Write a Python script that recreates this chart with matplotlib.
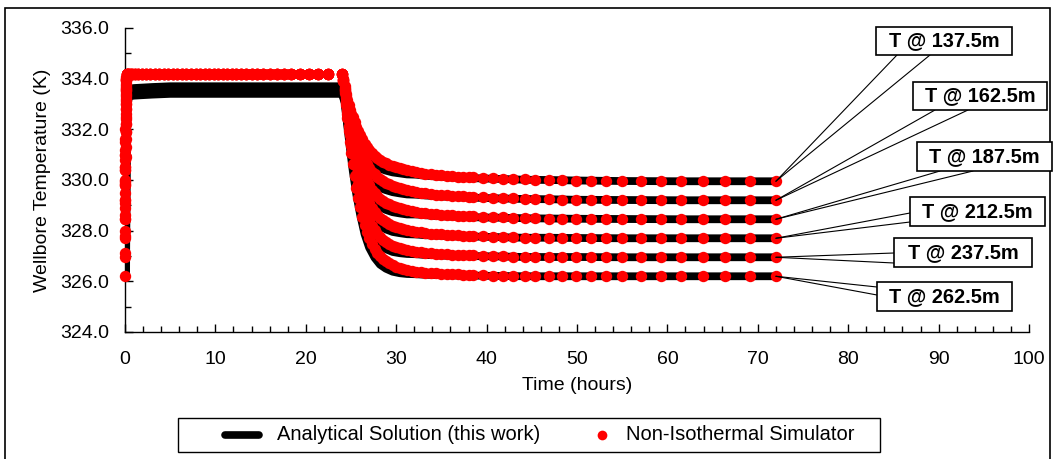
import matplotlib
matplotlib.use('Agg')
import matplotlib.pyplot as plt
from matplotlib.patches import Rectangle, ConnectionPatch
from matplotlib.lines import Line2D
from matplotlib.ticker import MultipleLocator, FormatStrFormatter

plt.rcParams['font.family'] = ['Liberation Sans', 'DejaVu Sans']

# ---------------- data ----------------
depth_labels = ['T @ 137.5m', 'T @ 162.5m', 'T @ 187.5m', 'T @ 212.5m', 'T @ 237.5m', 'T @ 262.5m']
legend_labels = ['Analytical Solution (this work)', 'Non-Isothermal Simulator']

# Non-isothermal simulator time steps (hours)
t_rise = [0.0, 0.01, 0.02, 0.03, 0.04, 0.06, 0.08, 0.1, 0.13, 0.16, 0.2]
t_plateau = [0.35, 0.55, 0.8, 1.1, 1.45, 1.85, 2.3, 2.8, 3.3, 3.8,
             4.3, 4.8, 5.3, 5.8, 6.3, 6.8, 7.3, 7.8, 8.3, 8.8,
             9.3, 9.8, 10.3, 10.8, 11.3, 11.8, 12.3, 12.8, 13.4, 14.0,
             14.6, 15.3, 16.0, 16.8, 17.6, 18.4, 19.4, 20.4, 21.4, 22.5]
t_cool = [24.0, 24.15, 24.3, 24.45, 24.6, 24.75, 24.9, 25.05, 25.2, 25.4,
          25.6, 25.8, 26.0, 26.25, 26.5, 26.75, 27.0, 27.3, 27.6, 27.9,
          28.2, 28.5, 28.85, 29.2, 29.6, 30.0, 30.4, 30.8, 31.2, 31.7,
          32.2, 32.7, 33.2, 33.8, 34.4, 35.0, 35.6, 36.2, 36.8, 37.4,
          38.0, 38.5, 39.6, 40.7, 41.8, 42.9, 44.2, 45.4, 46.9, 48.3,
          49.9, 51.5, 53.2, 55.0, 57.1, 59.3, 61.5, 63.9, 66.4, 69.1, 72.0]

# simulator plateau during production (same at all depths)
sim_plateau = [334.2, 334.2, 334.2, 334.2, 334.2, 334.2, 334.2, 334.2, 334.2, 334.2,
               334.2, 334.2, 334.2, 334.2, 334.2, 334.2, 334.2, 334.2, 334.2, 334.2,
               334.2, 334.2, 334.2, 334.2, 334.2, 334.2, 334.2, 334.2, 334.2, 334.2,
               334.2, 334.2, 334.2, 334.2, 334.2, 334.2, 334.2, 334.2, 334.2, 334.2]

sim_rise_137 = [329.95, 330.5, 331.0, 331.5, 332.0, 332.5, 333.0, 333.4, 333.8, 334.05, 334.2]
sim_rise_162 = [329.2, 329.8, 330.4, 331.0, 331.6, 332.2, 332.8, 333.3, 333.7, 334.0, 334.2]
sim_rise_187 = [328.45, 329.1, 329.8, 330.5, 331.2, 331.9, 332.6, 333.2, 333.65, 334.0, 334.2]
sim_rise_212 = [327.7, 328.45, 329.2, 330.0, 330.8, 331.6, 332.4, 333.1, 333.6, 333.95, 334.2]
sim_rise_237 = [326.95, 327.8, 328.6, 329.5, 330.4, 331.3, 332.2, 333.0, 333.55, 333.95, 334.2]
sim_rise_262 = [326.2, 327.1, 328.0, 328.9, 329.9, 330.9, 331.9, 332.8, 333.5, 333.9, 334.2]

sim_cool_137 = [334.2, 334.0, 333.7, 333.4, 333.15, 332.95, 332.78, 332.62, 332.47, 332.28,
                332.1, 331.93, 331.77, 331.6, 331.44, 331.3, 331.18, 331.05, 330.95, 330.86,
                330.78, 330.71, 330.66, 330.61, 330.55, 330.5, 330.46, 330.42, 330.39, 330.35,
                330.31, 330.28, 330.25, 330.22, 330.2, 330.18, 330.16, 330.15, 330.13, 330.12,
                330.11, 330.1, 330.08, 330.06, 330.05, 330.04, 330.02, 330.01, 330.0, 329.99,
                329.98, 329.97, 329.97, 329.96, 329.96, 329.95, 329.95, 329.95, 329.95, 329.95, 329.95]
sim_cool_162 = [334.2, 333.98, 333.65, 333.31, 333.01, 332.75, 332.52, 332.31, 332.11, 331.85,
                331.62, 331.4, 331.21, 330.99, 330.8, 330.63, 330.48, 330.33, 330.22, 330.11,
                330.02, 329.95, 329.89, 329.83, 329.77, 329.71, 329.67, 329.63, 329.6, 329.56,
                329.52, 329.5, 329.47, 329.44, 329.42, 329.4, 329.39, 329.38, 329.36, 329.35,
                329.34, 329.33, 329.31, 329.29, 329.28, 329.28, 329.26, 329.25, 329.24, 329.23,
                329.22, 329.22, 329.21, 329.21, 329.21, 329.2, 329.2, 329.2, 329.2, 329.2, 329.2]
sim_cool_187 = [334.2, 333.96, 333.6, 333.22, 332.87, 332.55, 332.27, 331.99, 331.74, 331.43,
                331.14, 330.88, 330.64, 330.38, 330.15, 329.96, 329.79, 329.62, 329.48, 329.36,
                329.26, 329.18, 329.11, 329.05, 328.98, 328.93, 328.88, 328.84, 328.81, 328.77,
                328.74, 328.71, 328.69, 328.66, 328.64, 328.63, 328.61, 328.6, 328.59, 328.58,
                328.57, 328.56, 328.54, 328.53, 328.52, 328.51, 328.5, 328.49, 328.48, 328.47,
                328.47, 328.46, 328.46, 328.45, 328.45, 328.45, 328.45, 328.45, 328.45, 328.45, 328.45]
sim_cool_212 = [334.2, 333.94, 333.55, 333.13, 332.73, 332.35, 332.01, 331.68, 331.38, 331.0,
                330.66, 330.35, 330.08, 329.77, 329.51, 329.28, 329.09, 328.9, 328.75, 328.61,
                328.51, 328.42, 328.34, 328.27, 328.2, 328.14, 328.1, 328.06, 328.02, 327.99,
                327.95, 327.93, 327.9, 327.88, 327.87, 327.85, 327.84, 327.83, 327.81, 327.8,
                327.8, 327.79, 327.78, 327.76, 327.75, 327.75, 327.73, 327.73, 327.72, 327.72,
                327.71, 327.71, 327.7, 327.7, 327.7, 327.7, 327.7, 327.7, 327.7, 327.7, 327.7]
sim_cool_237 = [334.2, 333.92, 333.5, 333.04, 332.59, 332.15, 331.76, 331.36, 331.01, 330.58,
                330.18, 329.83, 329.51, 329.16, 328.86, 328.61, 328.4, 328.19, 328.01, 327.86,
                327.75, 327.65, 327.56, 327.49, 327.41, 327.36, 327.31, 327.27, 327.23, 327.2,
                327.17, 327.14, 327.12, 327.1, 327.09, 327.08, 327.06, 327.05, 327.04, 327.03,
                327.03, 327.02, 327.01, 327.0, 326.99, 326.98, 326.97, 326.97, 326.96, 326.96,
                326.96, 326.95, 326.95, 326.95, 326.95, 326.95, 326.95, 326.95, 326.95, 326.95, 326.95]
sim_cool_262 = [334.2, 333.9, 333.45, 332.95, 332.45, 331.95, 331.5, 331.05, 330.65, 330.15,
                329.7, 329.3, 328.95, 328.55, 328.22, 327.94, 327.7, 327.47, 327.28, 327.12,
                326.99, 326.89, 326.79, 326.71, 326.63, 326.57, 326.52, 326.48, 326.44, 326.41,
                326.38, 326.36, 326.34, 326.32, 326.31, 326.3, 326.29, 326.28, 326.27, 326.26,
                326.26, 326.25, 326.24, 326.23, 326.22, 326.22, 326.21, 326.21, 326.2, 326.2,
                326.2, 326.2, 326.2, 326.2, 326.2, 326.2, 326.2, 326.2, 326.2, 326.2, 326.2]

# Analytical solution (this work)
ana_t_heat = [0.12, 0.16, 0.25, 0.45, 1.0, 2.0, 3.0, 5.0, 8.0, 12.0, 16.0, 20.0, 23.9]
ana_t_cool = [24.0, 24.3, 24.6, 24.9, 25.2, 25.6, 26.0, 26.5, 27.0, 27.6,
              28.2, 28.85, 29.6, 30.4, 31.2, 32.2, 33.2, 34.4, 35.6, 36.8,
              38.0, 39.6, 41.8, 44.2, 46.9, 49.9, 55.0, 61.5, 72.0]

ana_heat_137 = [329.95, 332.3, 333.4, 333.6, 333.63, 333.65, 333.67, 333.7, 333.7, 333.7, 333.7, 333.7, 333.7]
ana_heat_162 = [329.2, 331.9, 333.3, 333.55, 333.58, 333.6, 333.62, 333.65, 333.65, 333.65, 333.65, 333.65, 333.65]
ana_heat_187 = [328.45, 331.5, 333.2, 333.48, 333.52, 333.55, 333.57, 333.6, 333.6, 333.6, 333.6, 333.6, 333.6]
ana_heat_212 = [327.7, 331.1, 333.1, 333.4, 333.43, 333.45, 333.47, 333.5, 333.5, 333.5, 333.5, 333.5, 333.5]
ana_heat_237 = [326.95, 330.7, 333.0, 333.35, 333.38, 333.4, 333.42, 333.45, 333.45, 333.45, 333.45, 333.45, 333.45]
ana_heat_262 = [326.2, 330.3, 332.9, 333.3, 333.33, 333.35, 333.37, 333.4, 333.4, 333.4, 333.4, 333.4, 333.4]

ana_cool_137 = [333.7, 333.3, 332.8, 332.48, 332.17, 331.8, 331.47, 331.08, 330.81, 330.6,
                330.45, 330.37, 330.3, 330.26, 330.22, 330.21, 330.17, 330.14, 330.11, 330.09,
                330.08, 330.06, 330.04, 330.01, 330.0, 329.98, 329.96, 329.95, 329.95]
ana_cool_162 = [333.65, 333.25, 332.66, 332.22, 331.81, 331.32, 330.91, 330.44, 330.11, 329.87,
                329.69, 329.6, 329.52, 329.47, 329.43, 329.42, 329.39, 329.36, 329.34, 329.32,
                329.31, 329.29, 329.27, 329.25, 329.24, 329.22, 329.21, 329.2, 329.2]
ana_cool_187 = [333.6, 333.2, 332.52, 331.97, 331.44, 330.84, 330.34, 329.79, 329.42, 329.13,
                328.93, 328.82, 328.73, 328.68, 328.64, 328.64, 328.61, 328.58, 328.56, 328.55,
                328.54, 328.52, 328.51, 328.49, 328.48, 328.47, 328.46, 328.45, 328.45]
ana_cool_212 = [333.5, 333.15, 332.38, 331.71, 331.08, 330.36, 329.78, 329.15, 328.72, 328.4,
                328.18, 328.05, 327.95, 327.9, 327.86, 327.85, 327.82, 327.81, 327.79, 327.77,
                327.77, 327.76, 327.74, 327.72, 327.72, 327.71, 327.7, 327.7, 327.7]
ana_cool_237 = [333.45, 333.1, 332.24, 331.46, 330.71, 329.88, 329.21, 328.5, 328.03, 327.66,
                327.42, 327.27, 327.16, 327.11, 327.08, 327.07, 327.04, 327.03, 327.01, 327.0,
                327.0, 326.99, 326.98, 326.96, 326.96, 326.96, 326.95, 326.95, 326.95]
ana_cool_262 = [333.4, 333.05, 332.1, 331.2, 330.35, 329.4, 328.65, 327.86, 327.33, 326.93,
                326.66, 326.5, 326.38, 326.32, 326.29, 326.28, 326.26, 326.25, 326.24, 326.23,
                326.23, 326.22, 326.21, 326.2, 326.2, 326.2, 326.2, 326.2, 326.2]

x_ticks = [0, 10, 20, 30, 40, 50, 60, 70, 80, 90, 100]
y_ticks = [324.0, 326.0, 328.0, 330.0, 332.0, 334.0, 336.0]

sim_rises = [sim_rise_137, sim_rise_162, sim_rise_187, sim_rise_212, sim_rise_237, sim_rise_262]
sim_cools = [sim_cool_137, sim_cool_162, sim_cool_187, sim_cool_212, sim_cool_237, sim_cool_262]
ana_heats = [ana_heat_137, ana_heat_162, ana_heat_187, ana_heat_212, ana_heat_237, ana_heat_262]
ana_cools = [ana_cool_137, ana_cool_162, ana_cool_187, ana_cool_212, ana_cool_237, ana_cool_262]

# ---------------- figure ----------------
W, H = 1055, 459
fig = plt.figure(figsize=(W / 100, H / 100), dpi=100)
ax = fig.add_axes([125 / W, 1 - 332 / H, 904 / W, 304 / H])

sim_t = t_rise + t_plateau + t_cool
ana_t = ana_t_heat + ana_t_cool

for heat, cool in zip(ana_heats, ana_cools):
    ax.plot(ana_t, heat + cool, color='black', lw=5.6, solid_capstyle='butt',
            solid_joinstyle='round', zorder=2)
for rise, cool in zip(sim_rises, sim_cools):
    ax.plot(sim_t, rise + sim_plateau + cool, ls='none', marker='o', ms=8.2,
            mfc='#ff0000', mec='none', zorder=3, clip_on=False)

ax.set_xlim(x_ticks[0], x_ticks[-1])
ax.set_ylim(y_ticks[0], y_ticks[-1])
ax.set_xticks(x_ticks)
ax.set_yticks(y_ticks)
ax.xaxis.set_minor_locator(MultipleLocator(2))
ax.yaxis.set_minor_locator(MultipleLocator(1))
ax.yaxis.set_major_formatter(FormatStrFormatter('%.1f'))
ax.tick_params(which='both', direction='in', width=1, labelsize=14, colors='black')
ax.tick_params(which='major', length=6)
ax.tick_params(which='minor', length=4)
ax.tick_params(axis='y', pad=11.5)
ax.tick_params(axis='x', pad=14)
for s in ['top', 'right']:
    ax.spines[s].set_visible(False)
for s in ['left', 'bottom']:
    ax.spines[s].set_linewidth(1.0)

ax.set_xlabel('Time (hours)', fontsize=14)
ax.set_ylabel('Wellbore Temperature (K)', fontsize=14)
ax.xaxis.set_label_coords((577 - 125) / 904, -(377 - 332) / 304)
ax.yaxis.set_label_coords(-(125 - 51) / 904, 0.5)

# ---------------- callout boxes ----------------
boxes = [(876, 27, 1012, 55), (913, 82, 1047, 110), (917, 142, 1052, 171),
         (910, 197, 1045, 226), (894, 238, 1032, 267), (877, 282, 1012, 311)]
anchors = [((897, 55), (930, 55)), ((935, 110), (968, 110)), ((940, 171), (973, 171)),
           ((910, 213), (910, 222)), ((894, 253), (894, 263)), ((877, 287), (877, 295))]

def ff(px, py):
    return (px / W, 1 - py / H)

for lab, box, anc, cool in zip(depth_labels, boxes, anchors, sim_cools):
    end = (t_cool[-1], cool[-1])
    for a in anc:
        con = ConnectionPatch(xyA=ff(*a), coordsA='figure fraction', xyB=end, coordsB='data',
                              axesA=ax, axesB=ax, color='black', lw=0.8, zorder=6)
        fig.add_artist(con)
    l, t, r, b = box
    x0, y0 = ff(l, b)
    rect = Rectangle((x0, y0), (r - l) / W, (b - t) / H, transform=fig.transFigure,
                     facecolor='white', edgecolor='black', lw=1.2, zorder=7)
    fig.add_artist(rect)
    cx, cy = ff((l + r) / 2, (t + b) / 2)
    fig.text(cx, cy, lab, ha='center', va='center', fontsize=14.4, fontweight='bold', zorder=8)

# ---------------- legend (drawn as a framed key below the axes) ----------------
lx0, ly0 = ff(178, 452)
fig.add_artist(Rectangle((lx0, ly0), (880 - 178) / W, (452 - 418) / H, transform=fig.transFigure,
                         facecolor='white', edgecolor='black', lw=1.0, zorder=1))
ky = 1 - 435 / H
fig.add_artist(Line2D([225 / W, 259 / W], [ky, ky], transform=fig.transFigure, color='black',
                      lw=5.5, solid_capstyle='round', zorder=2))
fig.add_artist(Line2D([602 / W], [ky], transform=fig.transFigure, ls='none', marker='o', ms=7,
                      mfc='#ff0000', mec='none', zorder=2))
fig.text(277 / W, ky, legend_labels[0], ha='left', va='center', fontsize=14.5, zorder=3)
fig.text(626 / W, ky, legend_labels[1], ha='left', va='center', fontsize=14.5, zorder=3)

# figure border
fig.add_artist(Rectangle((5 / W, -0.05), (1050 - 5) / W, 1 - 8 / H + 0.05,
                         transform=fig.transFigure, fill=False, edgecolor='black', lw=1.2))

fig.savefig('out.png', dpi=100)
